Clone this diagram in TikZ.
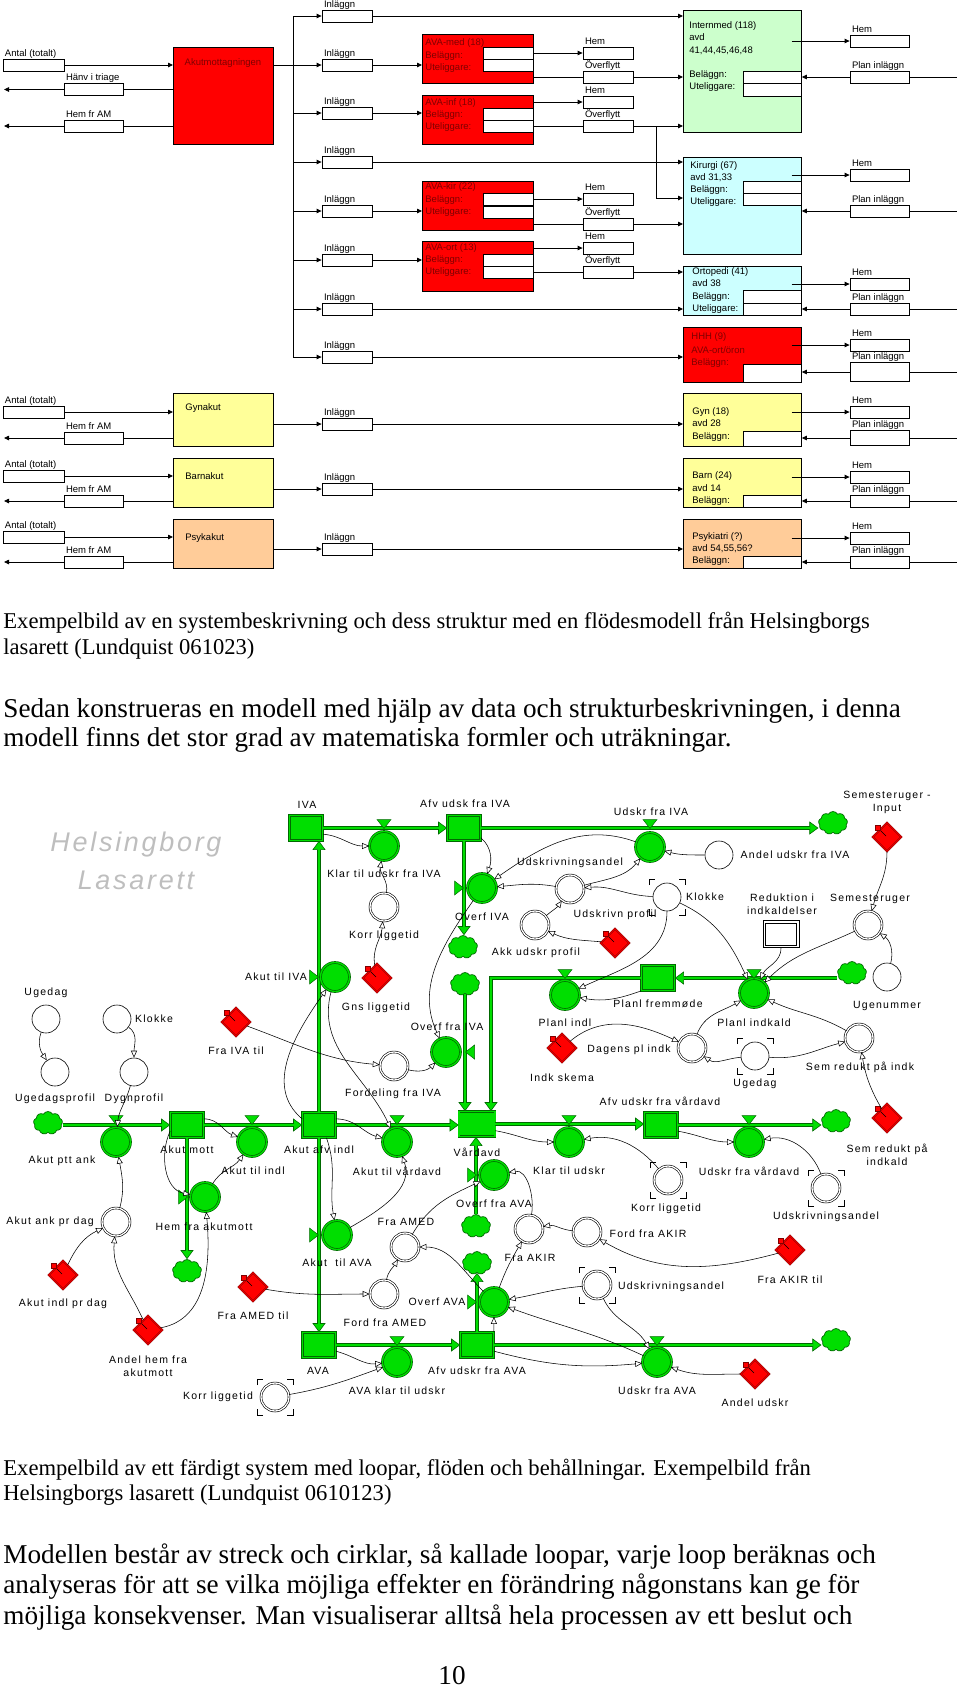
\documentclass[tikz,border=0pt]{standalone}
\usepackage{fontspec}
\setmainfont{Liberation Serif}
\newfontfamily\arialfont{Liberation Sans}
\newfontfamily\pwsfont[LetterSpace=12]{Liberation Sans}
\newfontfamily\hlfont[LetterSpace=10]{Liberation Sans}
\usetikzlibrary{arrows.meta,shapes.geometric,shapes.symbols,positioning}

\definecolor{kred}{RGB}{255,0,0}
\definecolor{kdark}{RGB}{128,0,0}
\definecolor{imgreen}{RGB}{204,255,204}
\definecolor{kicyan}{RGB}{204,255,255}
\definecolor{gyellow}{RGB}{255,255,153}
\definecolor{porange}{RGB}{255,204,153}
\definecolor{pgreen}{RGB}{0,222,0}
\definecolor{pdark}{RGB}{0,105,0}
\definecolor{hlgray}{RGB}{190,190,190}

\tikzset{
  ar/.style={-{Triangle[length=5pt,width=4.5pt]}},
  fb/.style={draw, fill=white, minimum height=12pt, inner sep=0pt},
  lb/.style={anchor=base west, inner sep=0pt, font=\arialfont\fontsize{9.5}{11}\selectfont},
  unit/.style={draw, anchor=north west, inner sep=0pt},
  wt/.style={anchor=west, inner sep=0pt, text height=7pt, text depth=2pt, font=\arialfont\fontsize{9.5}{11}\selectfont},
  stock/.style={rectangle, draw=pdark, fill=pgreen, double=pgreen, double distance=1.2pt, line width=0.7pt, minimum width=33pt, minimum height=25pt, inner sep=0pt},
  valve/.style={circle, draw=pdark, fill=pgreen, double=pgreen, double distance=1.3pt, line width=0.7pt, minimum size=29pt, inner sep=0pt},
  aux/.style={circle, draw=black, fill=white, line width=0.6pt, minimum size=28pt, inner sep=0pt},
  auxd/.style={aux, double=white, double distance=1.3pt},
  cloudy/.style={cloud, cloud puffs=9, cloud puff arc=120, aspect=1.25, draw=pdark, fill=pgreen, line width=0.7pt, minimum width=29pt, minimum height=23pt, inner sep=0pt},
  konst/.style={diamond, aspect=1, draw=kdark, fill=kred, double=kred, double distance=0.8pt, line width=0.5pt, minimum size=29pt, inner sep=0pt},
  vm/.style={fill=pgreen, draw=pdark, line width=0.5pt},
  pipeo/.style={line width=4.6pt, draw=pdark, -{Triangle[length=9pt,width=13pt,line width=0.6pt,fill=pgreen]}},
  pipei/.style={line width=2.4pt, draw=pgreen, shorten >=8pt},
  conn/.style={line width=0.55pt, -{Triangle[length=7pt,width=6pt,fill=white]}},
  sl/.style={inner sep=0pt, align=center, font=\pwsfont\fontsize{10.5}{13}\selectfont},
  hl/.style={inner sep=0pt, text=hlgray, font=\hlfont\itshape\fontsize{27}{30}\selectfont},
  cs/.style={anchor=base west, inner sep=0pt, font=\fontsize{22.6}{25}\selectfont},
  cl/.style={anchor=base west, inner sep=0pt, font=\fontsize{27.2}{30}\selectfont}
}

% box with its name written above it
\newcommand\lbox[5]{\node[fb, #4] (#1) at (#2,#3) {};
  \node[lb] (#1-l) at ([shift={(2,-2.5)}]#1.north west) {#5};}
% pipe with its big arrow head
\newcommand\flow[1]{\draw[pipeo] #1; \draw[pipei] #1;}
% valve marks
\newcommand\mdown[2]{\filldraw[vm] (#1-7,#2-4.5) -- (#1+7,#2-4.5) -- (#1,#2+4.5) -- cycle;}
\newcommand\mright[2]{\filldraw[vm] (#1-4.5,#2-7) -- (#1-4.5,#2+7) -- (#1+4.5,#2) -- cycle;}
\newcommand\mleft[2]{\filldraw[vm] (#1+4.5,#2-7) -- (#1+4.5,#2+7) -- (#1-4.5,#2) -- cycle;}
% constant
\newcommand\konst[3]{\node[konst] (#1) at (#2,#3) {};
  \draw[line width=0.5pt] ([shift={(-9,-9)}]#1.center) -- ([shift={(-1,-1)}]#1.center);
  \filldraw[fill=kred, draw=kdark, line width=0.4pt] ([shift={(-12,-12)}]#1.center) rectangle ([shift={(-7,-7)}]#1.center);}
% corner brackets
\newcommand\brk[1]{\draw[line width=0.7pt]
  ([shift={(-18,-12)}]#1.center) -- ++(0,-6) -- ++(6,0)
  ([shift={(12,-18)}]#1.center) -- ++(6,0) -- ++(0,6)
  ([shift={(18,12)}]#1.center) -- ++(0,6) -- ++(-6,0)
  ([shift={(-12,18)}]#1.center) -- ++(-6,0) -- ++(0,-6);}

\begin{document}
\begin{tikzpicture}[x=1pt,y=-1pt,line width=0.8pt]
\useasboundingbox (0,0) rectangle (960,1690);

% ---------- flow chart ----------
\coordinate (bus) at (293,0);
\coordinate (re) at (957,0);
\coordinate (le) at (4,0);

% akutmottagningen
\node[unit, fill=kred, minimum width=100pt, minimum height=97pt] (akm) at (173,47) {};
\node[wt, anchor=center, text=kdark] (akmt) at (223,63) {Akutmottagningen};
\lbox{an1}{33.5}{65}{minimum width=61pt}{Antal (totalt)}
\lbox{ha1}{93.5}{89.5}{minimum width=59pt}{Hänv i triage}
\lbox{hf1}{93.5}{126}{minimum width=59pt}{Hem fr AM}
\draw[ar] (an1.east) -- (an1.east -| akm.west);
\draw (akm.west |- ha1.east) -- (ha1.east);
\draw[ar] (ha1.west) -- (ha1.west -| le);
\draw (akm.west |- hf1.east) -- (hf1.east);
\draw[ar] (hf1.west) -- (hf1.west -| le);

% inlaggn
\foreach \i/\y in {1/16,2/65,3/113,4/162,5/211,6/260,7/309,8/357}{
  \lbox{in\i}{347}{\y}{minimum width=50pt}{Inläggn}
}
\draw (bus |- in1.west) -- (bus |- in8.west);
\foreach \i in {1,...,8} \draw[ar] (bus |- in\i.west) -- (in\i.west);
\draw (akm.east |- in2.west) -- (bus |- in2.west);

% wards
\node[unit, fill=imgreen, minimum width=118pt, minimum height=122pt] (im) at (683,10) {};
\node[unit, fill=kicyan, minimum width=118pt, minimum height=97pt] (ki) at (683,157) {};
\node[unit, fill=kicyan, minimum width=118pt, minimum height=49pt] (or) at (683,266) {};
\node[unit, fill=kred, minimum width=118pt, minimum height=55pt] (hh) at (683,327) {};
\node[unit, fill=gyellow, minimum width=118pt, minimum height=53pt] (gy) at (683,393) {};
\node[unit, fill=gyellow, minimum width=118pt, minimum height=49pt] (ba) at (683,458) {};
\node[unit, fill=porange, minimum width=118pt, minimum height=49pt] (ps) at (683,519) {};
\foreach \n/\y/\bh in {im1/71/12, im2/83/13, ki1/181/12, ki2/193/12, or1/290/13, or2/303/12, hh1/364/18, gy1/431/15, ba1/495/12, ps1/556/12}
  \node[fb, anchor=north west, minimum width=58pt, minimum height=\bh pt] (\n) at (743,\y) {};

\node[wt] (imt1) at (689,26) {Internmed (118)};
\node[wt] (imt2) at (689,38) {avd};
\node[wt] (imt3) at (689,51) {41,44,45,46,48};
\node[wt] (imt4) at (689,75) {Beläggn:};
\node[wt] (imt5) at (689,87) {Uteliggare:};
\node[wt] (kit1) at (690,166) {Kirurgi (67)};
\node[wt] (kit2) at (690,178) {avd 31,33};
\node[wt] (kit3) at (690,190) {Beläggn:};
\node[wt] (kit4) at (690,202) {Uteliggare:};
\node[wt] (ort1) at (692,272) {Ortopedi (41)};
\node[wt] (ort2) at (692,284) {avd 38};
\node[wt] (ort3) at (692,297) {Beläggn:};
\node[wt] (ort4) at (692,309) {Uteliggare:};
\node[wt, text=kdark] (hht1) at (691,337) {HHH (9)};
\node[wt, text=kdark] (hht2) at (691,351) {AVA-ort/öron};
\node[wt, text=kdark] (hht3) at (691,363) {Beläggn:};
\node[wt] (gyt1) at (692,412) {Gyn (18)};
\node[wt] (gyt2) at (692,424) {avd 28};
\node[wt] (gyt3) at (692,437) {Beläggn:};
\node[wt] (bat1) at (692,476) {Barn (24)};
\node[wt] (bat2) at (692,489) {avd 14};
\node[wt] (bat3) at (692,501) {Beläggn:};
\node[wt] (pst1) at (692,537) {Psykiatri (?)};
\node[wt] (pst2) at (692,549) {avd 54,55,56?};
\node[wt] (pst3) at (692,561) {Beläggn:};

\foreach \w/\hy/\py/\ph in {im/41/77/12, ki/175/211/12, or/284/309/12, hh/345/372/19, gy/412/438/15, ba/477/501/12, ps/538/562/12}{
  \lbox{\w-h}{879.5}{\hy}{minimum width=59pt}{Hem}
  \lbox{\w-p}{879.5}{\py}{minimum width=59pt, minimum height=\ph pt}{Plan inläggn}
  \draw[ar] ([shift={(-58,0)}]\w-h.west) -- (\w-h.west);
  \draw[ar] (\w-p.west) -- (\w-p.west -| \w.east);
  \draw (\w-p.east) -- (\w-p.east -| re);
}

% AVA units
\node[unit, fill=kred, minimum width=111pt, minimum height=49pt] (am) at (422,34) {};
\node[unit, fill=kred, minimum width=111pt, minimum height=49pt] (ai) at (422,95) {};
\node[unit, fill=kred, minimum width=111pt, minimum height=49pt] (ak) at (422,181) {};
\node[unit, fill=kred, minimum width=111pt, minimum height=50pt] (ao) at (422,241) {};
\foreach \n/\y in {am1/47, am2/59, ai1/108, ai2/120, ak1/193, ak2/205.5, ao1/254, ao2/266}
  \node[fb, anchor=north west, minimum width=50pt] (\n) at (483,\y) {};
\foreach \n/\y/\lt in {amt1/43/AVA-med (18), amt2/56/Beläggn:, amt3/68/Uteliggare:,
    ait1/103/AVA-inf (18), ait2/115/Beläggn:, ait3/127/Uteliggare:,
    akt1/187/AVA-kir (22), akt2/200/Beläggn:, akt3/212/Uteliggare:,
    aot1/248/AVA-ort (13), aot2/260/Beläggn:, aot3/272/Uteliggare:}
  \node[wt, text=kdark] (\n) at (425,\y) {\lt};

\foreach \un/\hy/\oy in {am/53/77, ai/102/126, ak/199/224, ao/248/272}{
  \lbox{\un-h}{608}{\hy}{minimum width=50pt}{Hem}
  \lbox{\un-o}{608}{\oy}{minimum width=50pt}{Överflytt}
  \draw[ar] (\un.east |- \un-h.west) -- (\un-h.west);
  \draw (\un.east |- \un-o.west) -- (\un-o.west);
}
\draw[ar] (am-o.east) -- (am-o.east -| im.west);
\draw[ar] (ai-o.east) -- (ai-o.east -| im.west);
\coordinate (jn) at (656,126);
\draw[ar] (jn) |- ([shift={(0,41)}]ki.north west);
\draw[ar] (ak-o.east) -- (ak-o.east -| ki.west);
\draw[ar] (ao-o.east) -- (ao-o.east -| or.west);

\draw[ar] (in1.east) -- (in1.east -| im.west);
\draw[ar] (in2.east) -- (in2.east -| am.west);
\draw[ar] (in3.east) -- (in3.east -| ai.west);
\draw[ar] (in4.east) -- (in4.east -| ki.west);
\draw[ar] (in5.east) -- (in5.east -| ak.west);
\draw[ar] (in6.east) -- (in6.east -| ao.west);
\draw[ar] (in7.east) -- (in7.east -| or.west);
\draw[ar] (in8.east) -- (in8.east -| hh.west);

% gyn, barn, psyk emergency rows
\foreach \un/\lt/\col/\yt/\bh/\ty/\ay/\hy/\iy/\wrd in {gk/Gynakut/gyellow/393/53/408/412/438/424/gy, bk/Barnakut/gyellow/458/49/477/476/501/489/ba, pk/Psykakut/porange/519/49/538/537/562/549/ps}{
  \node[unit, fill=\col, minimum width=100pt, minimum height=\bh pt] (\un) at (173,\yt) {};
  \node[wt] (\un-t) at (185,\ty) {\lt};
  \lbox{\un-a}{33.5}{\ay}{minimum width=61pt}{Antal (totalt)}
  \lbox{\un-f}{93.5}{\hy}{minimum width=59pt}{Hem fr AM}
  \lbox{\un-i}{347}{\iy}{minimum width=50pt}{Inläggn}
  \draw[ar] (\un-a.east) -- (\un-a.east -| \un.west);
  \draw (\un.west |- \un-f.east) -- (\un-f.east);
  \draw[ar] (\un-f.west) -- (\un-f.west -| le);
  \draw[ar] (\un.east |- \un-i.west) -- (\un-i.west);
  \draw[ar] (\un-i.east) -- (\un-i.east -| \wrd.west);
}

% ---------- captions ----------
\node[cs] (cap1) at (3,628) {Exempelbild av en systembeskrivning och dess struktur med en flödesmodell från Helsingborgs};
\node[cs] (cap2) at (3,654) {lasarett (Lundquist 061023)};
\node[cl] (txt1) at (3,717) {Sedan konstrueras en modell med hjälp av data och strukturbeskrivningen, i denna};
\node[cl] (txt2) at (3,746) {modell finns det stor grad av matematiska formler och uträkningar.};

% ---------- flow model ----------
\node[hl] (hl1) at (136,845) {Helsingborg};
\node[hl] (hl2) at (136,880) {Lasarett};

\node[stock] (sIVA) at (306,828) {};
\node[stock] (sAfvIVA) at (464,828) {};
\node[stock] (sPlanl) at (658,978) {};
\node[stock] (sAkmott) at (187,1125) {};
\node[stock] (sAkafv) at (319,1125) {};
\node[stock, minimum width=36pt] (sVard) at (477,1124) {};
\node[stock] (sAfvVard) at (661,1125) {};
\node[stock] (sAVA) at (319,1345) {};
\node[stock] (sAfvAVA) at (477,1345) {};

\foreach \n/\x/\y in {c1/833/823, c2/852/973, c3/463/947, c4/465/984, c5/48/1123, c6/187/1271, c7/836/1121, c8/476/1226, c9/477/1263, c10/836/1340}
  \node[cloudy] (\n) at (\x,\y) {};

\flow{(sIVA.east) -- (sAfvIVA.west)}
\flow{(sAfvIVA.east) -- (sAfvIVA.east -| c1.west)}
\flow{(sAfvIVA.south) -- (sAfvIVA.south |- c3.north)}
\flow{(c4.south) -- (c4.south |- sVard.north)}
\flow{(sPlanl.east -| c2.west) -- (sPlanl.east)}
\flow{(sPlanl.west) -| ([shift={(14,0)}]sVard.north)}
\flow{(c5.east |- sAkmott.west) -- (sAkmott.west)}
\flow{(sAkmott.east) -- (sAkafv.west)}
\flow{(sAkafv.east) -- (sVard.west |- sAkafv.east)}
\flow{(sVard.east) -- (sVard.east -| sAfvVard.west)}
\flow{(sAfvVard.east) -- (sAfvVard.east -| c7.west)}
\flow{(sAkmott.south) -- (sAkmott.south |- c6.north)}
\flow{(sAkafv.north) -- (sAkafv.north |- sIVA.south)}
\flow{(sAkafv.south) -- (sAVA.north)}
\flow{(sAVA.east) -- (sAfvAVA.west)}
\flow{(sAfvAVA.east) -- (sAfvAVA.east -| c10.west)}
\flow{(sAfvAVA.north) -- (sAfvAVA.north |- c9.south)}
\flow{(c8.north) -- (c8.north |- sVard.south)}

% valves
\foreach \n/\x/\y in {vKlarIVA/384/846, vUdIVA/650/847, vOvIVA/482/888, vOvfraIVA/446/1052, vAkIVA/335/977, vPlindl/565/995, vPlindk/754/993, vAkptt/116/1142, vAkindl/252/1142, vAkvard/397/1142, vKlar/569/1142, vUdVard/749/1142, vHem/205/1197, vAkAVA/337/1235, vOvfraAVA/494/1175, vOvAVA/494/1302, vAVAklar/397/1362, vUdAVA/657/1362}
  \node[valve] (\n) at (\x,\y) {};
\mdown{384}{824} \mdown{650}{824} \mdown{565}{974} \mdown{754}{974}
\mdown{116}{1120} \mdown{252}{1120} \mdown{397}{1120} \mdown{569}{1120} \mdown{749}{1120}
\mdown{397}{1341} \mdown{657}{1341}
\mright{459}{888} \mright{314}{977} \mright{183}{1197} \mright{314}{1235} \mright{472}{1175} \mright{472}{1302}
\mleft{470}{1052}

% auxiliaries
\foreach \n/\x/\y in {aUgedag/46/1019, aUgeprof/55/1072, aKlokkeL/117/1019, aDygn/134/1072, aAndelIVA/719/855, aKlokkeR/667/897, aUgenr/887/977, aUgedagR/755/1056}
  \node[aux] (\n) at (\x,\y) {};
\foreach \n/\x/\y in {aKorrT/384/907, aFord/394/1066, aUdprof/570/889, aAkk/535/925, aSem/868/925, aDagens/692/1048, aSemred/859/1038, aAkank/116/1222, aFraAMED/405/1247, aFordAMED/384/1294, aKorrB/275/1397, aKorrM/668/1180, aUdandR/826/1188, aFraAKIR/529/1229, aFordAKIR/587/1232, aUdandL/597/1285}
  \node[auxd] (\n) at (\x,\y) {};
\node[rectangle, draw=black, fill=white, line width=0.8pt, minimum width=36pt, minimum height=27pt, inner sep=0pt] (aRed) at (781,934) {};
\draw[line width=0.8pt] ([shift={(3,-3)}]aRed.south west) rectangle ([shift={(-3,3)}]aRed.north east);
\brk{aKlokkeR} \brk{aUgedagR} \brk{aKorrB} \brk{aKorrM} \brk{aUdandR} \brk{aUdandL}

% constants
\konst{kSemIn}{887}{837}
\konst{kAkk}{615}{943}
\konst{kGns}{377}{978}
\konst{kFraIVA}{236}{1022}
\konst{kIndk}{562}{1048}
\konst{kSemred}{887}{1118}
\konst{kAkindl}{63}{1275}
\konst{kAndelHem}{148}{1330}
\konst{kFraAMED}{253}{1287}
\konst{kFraAKIR}{790}{1250}
\konst{kAndelUd}{755}{1374}

% connectors
\draw[conn] (sIVA.-20) to[out=-5,in=180] (vKlarIVA);
\draw[conn] (aKorrT) to[out=80,in=-100] (vKlarIVA);
\draw[conn] (kGns) to[out=100,in=-95] (aKorrT);
\draw[conn] (sAfvIVA.-30) to[out=-40,in=70] (vOvIVA);
\draw[conn] (vUdIVA) to[out=160,in=35] (vOvIVA);
\draw[conn] (aUdprof) to[out=170,in=5] (vOvIVA);
\draw[conn] (aUdprof) to[out=15,in=-130] (vUdIVA);
\draw[conn] (aAndelIVA) to[out=180,in=-15] (vUdIVA);
\draw[conn] (aKlokkeR) to[out=178,in=5] (aUdprof);
\draw[conn] (aAkk) to[out=40,in=-125] (aUdprof);
\draw[conn] (kAkk) to[out=175,in=-25] (aAkk);
\draw[conn] (aKlokkeR) to[out=-90,in=25] (vPlindl);
\draw[conn] (aKlokkeR) to[out=-25,in=115] (vPlindk);
\draw[conn] (aRed) to[out=-90,in=65] (vPlindk);
\draw[conn] (aSem) to[out=205,in=45] (vPlindk);
\draw[conn] (kSemIn) to[out=-90,in=75] (aSem);
\draw[conn] (aUgenr) to[out=75,in=-35] (aSem);
\draw[conn] (sPlanl.south west) to[out=200,in=-10] (vPlindl);
\draw[conn] (kIndk) to[out=40,in=155] (aDagens);
\draw[conn] (aDagens) to[out=70,in=210] (vPlindk);
\draw[conn] (aUgedagR) to[out=185,in=-35] (aDagens);
\draw[conn] (aSemred) to[out=150,in=-25] (vPlindk);
\draw[conn] (aUgedagR) to[out=-5,in=195] (aSemred);
\draw[conn] (kSemred) to[out=120,in=-80] (aSemred);
\draw[conn] (vOvIVA) to[out=-125,in=115] (vOvfraIVA);
\draw[conn] (kFraIVA) to[out=-20,in=175] (aFord);
\draw[conn] (aFord) to[out=-15,in=-135] (vOvfraIVA);
\draw[conn] (sAkafv.160) to[out=140,in=-125] (vAkIVA);
\draw[conn] (vAkIVA) to[out=-105,in=115] (vAkvard);
\draw[conn] (sAkafv.20) to[out=0,in=165] (vAkvard);
\draw[conn] (sAkmott.20) to[out=0,in=160] (vAkindl);
\draw[conn] (sAkmott.200) to[out=-115,in=170] (vHem);
\draw[conn] (vHem) to[out=60,in=-125] (vAkindl);
\draw[conn] (kAndelHem) to[out=10,in=-85] (vHem);
\draw[conn] (kAndelHem) to[out=115,in=-95] (aAkank);
\draw[conn] (kAkindl) to[out=65,in=205] (aAkank);
\draw[conn] (aAkank) to[out=75,in=-80] (vAkptt);
\draw[conn] (aDygn) to[out=-105,in=85] (vAkptt);
\draw[conn] (aUgedag) to[out=-110,in=125] (aUgeprof);
\draw[conn] (aKlokkeL) to[out=-35,in=90] (aDygn);
\draw[conn] (sAkafv.-60) to[out=-70,in=100] (vAkAVA);
\draw[conn] (vAkAVA) to[out=30,in=-70] (vAkvard);
\draw[conn] (sVard.-20) to[out=-10,in=180] (vKlar);
\draw[conn] (aKorrM) to[out=130,in=10] (vKlar);
\draw[conn] (sAfvVard.-20) to[out=-10,in=180] (vUdVard);
\draw[conn] (aUdandR) to[out=110,in=10] (vUdVard);
\draw[conn] (aFraAKIR) to[out=80,in=10] (vOvfraAVA);
\draw[conn] (aFordAKIR) to[out=175,in=10] (aFraAKIR);
\draw[conn] (kFraAKIR) to[out=195,in=-30] (aFordAKIR);
\draw[conn] (vOvAVA) to[out=70,in=-120] (aFraAKIR);
\draw[conn] (aUdandL) to[out=185,in=10] (vOvAVA);
\draw[conn] (vUdAVA) to[out=155,in=-20] (vOvAVA);
\draw[conn] (aUdandL) to[out=-65,in=120] (vUdAVA);
\draw[conn] (sAfvAVA.-20) to[out=-15,in=185] (vUdAVA);
\draw[conn] (kAndelUd) to[out=180,in=-20] (vUdAVA);
\draw[conn] (aFraAMED) to[out=60,in=205] (vOvfraAVA);
\draw[conn] (aFordAMED) to[out=80,in=-120] (aFraAMED);
\draw[conn] (kFraAMED) to[out=-10,in=180] (aFordAMED);
\draw[conn] (vOvAVA) to[out=135,in=0] (aFraAMED);
\draw[conn] (sAVA.-20) to[out=-15,in=185] (vAVAklar);
\draw[conn] (aKorrB) to[out=10,in=200] (vAVAklar);
\draw[conn] (sAfvAVA.north east) -- (vOvAVA);

% names
\foreach \n/\x/\y/\lt in {
  lIVA/307/805/IVA, lAfvIVA/465/804/Afv udsk fra IVA, lUdIVA/651/812/Udskr fra IVA,
  lSemIn/887/802/{Semesteruger -\\Input}, lKlarIVA/384/874/Klar til udskr fra IVA,
  lAndelIVA/795/855/Andel udskr fra IVA, lUdand/570/863/Udskrivningsandel,
  lKlokkeR/705/897/Klokke, lRed/782/904/{Reduktion i\\indkaldelser}, lSem/870/899/Semesteruger,
  lKorrT/384/936/Korr liggetid, lOvIVA/482/917/Overf IVA, lUdprof/615/915/Udskrivn profil,
  lAkk/536/953/Akk udskr profil, lAkIVA/276/977/Akut til IVA, lGns/376/1008/Gns liggetid,
  lOvfraIVA/447/1027/Overf fra IVA, lPlanl/658/1004/Planl fremmøde, lPlindl/565/1023/Planl indl,
  lPlindk/754/1023/Planl indkald, lUgenr/887/1006/Ugenummer, lUgedag/46/993/Ugedag,
  lKlokkeL/154/1019/Klokke, lUgeprof/55/1099/Ugedagsprofil, lDygn/134/1099/Dygnprofil,
  lFraIVA/236/1051/Fra IVA til, lFord/393/1094/Fordeling fra IVA, lDagens/629/1050/Dagens pl indk,
  lIndk/562/1078/Indk skema, lUgedagR/755/1084/Ugedag, lSemred/860/1067/Sem redukt på indk,
  lAfvVard/660/1101/Afv udskr fra vårdavd, lAkptt/62/1161/Akut ptt ank, lAkmott/187/1150/Akut mott,
  lAkindl/253/1171/Akut til indl, lAkafv/319/1150/Akut afv indl, lAkvard/397/1171/Akut til vårdavd,
  lVard/477/1152/Vårdavd, lKlar/569/1171/Klar til udskr, lUdVard/749/1171/Udskr fra vårdavd,
  lSemredK/887/1155/{Sem redukt på\\indkald}, lAkank/50/1222/Akut ank pr dag,
  lHem/204/1227/Hem fra akutmott, lOvfraAVA/494/1204/Overf fra AVA, lKorrM/666/1209/Korr liggetid,
  lUdandR/826/1217/Udskrivningsandel, lFraAMED/406/1222/Fra AMED, lFordAKIR/648/1234/Ford fra AKIR,
  lAkAVA/337/1263/{Akut\ \ til AVA}, lFraAKIR/530/1258/Fra AKIR, lFraAKIRk/790/1280/Fra AKIR til,
  lAkindlk/63/1304/Akut indl pr dag, lOvAVA/437/1302/Overf AVA, lUdandL/671/1287/Udskrivningsandel,
  lFraAMEDk/253/1316/Fra AMED til, lFordAMED/385/1323/Ford fra AMED,
  lAndelHem/148/1366/{Andel hem fra\\akutmott}, lAVA/318/1371/AVA, lAfvAVA/477/1371/Afv udskr fra AVA,
  lAVAklar/397/1391/AVA klar til udskr, lUdAVA/657/1391/Udskr fra AVA, lKorrB/218/1397/Korr liggetid,
  lAndelUd/755/1403/Andel udskr}
  \node[sl] (\n) at (\x,\y) {\lt};

% ---------- captions ----------
\node[cs] (cap3) at (3,1475) {Exempelbild av ett färdigt system med loopar, flöden och behållningar. Exempelbild från};
\node[cs] (cap4) at (3,1500) {Helsingborgs lasarett (Lundquist 0610123)};
\node[cl] (txt3) at (3,1563) {Modellen består av streck och cirklar, så kallade loopar, varje loop beräknas och};
\node[cl] (txt4) at (3,1593) {analyseras för att se vilka möjliga effekter en förändring någonstans kan ge för};
\node[cl] (txt5) at (3,1624) {möjliga konsekvenser. Man visualiserar alltså hela processen av ett beslut och};
\node[cl, anchor=base] (pnr) at (452,1684) {10};
\end{tikzpicture}
\end{document}
